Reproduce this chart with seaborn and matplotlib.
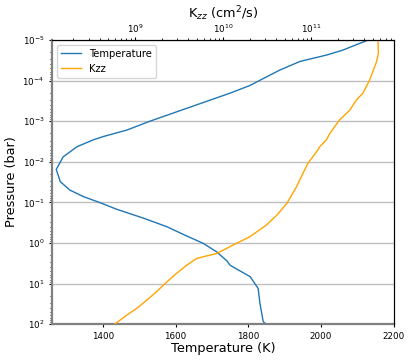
import numpy as np
import matplotlib
matplotlib.use("Agg")
import matplotlib.pyplot as plt
import seaborn as sns

# temperature profile (K) vs log10 pressure (bar)
temp_logp = [-5.0, -4.75, -4.63, -4.47, -4.26, -4.03, -3.88, -3.69, -3.0, -2.78, -2.62,
             -2.54, -2.37, -2.12, -1.81, -1.51, -1.30, -1.14, -0.99, -0.83, -0.61, -0.40,
             -0.17, 0.01, 0.22, 0.44, 0.55, 0.83, 1.12, 1.49, 1.94, 2.0]
temp_k = [2130, 2060, 2016, 1942, 1887, 1837, 1805, 1750, 1530, 1466, 1401,
          1374, 1329, 1291, 1272, 1283, 1310, 1347, 1393, 1438, 1512, 1576,
          1631, 1676, 1713, 1741, 1750, 1805, 1827, 1832, 1841, 1849]

# eddy diffusion (log10 cm^2/s) vs log10 pressure (bar)
kzz_logp = [-5.0, -4.67, -4.47, -4.01, -3.69, -3.52, -3.27, -3.03, -2.70, -2.54, -2.37,
            -2.25, -1.96, -1.38, -0.97, -0.69, -0.44, -0.15, 0.01, 0.26, 0.38, 0.55,
            0.75, 1.0, 1.20, 1.45, 1.61, 1.78, 2.0]
kzz_log = [11.755, 11.76, 11.74, 11.66, 11.585, 11.51, 11.435, 11.32, 11.21, 11.17, 11.095,
           11.06, 10.96, 10.83, 10.72, 10.61, 10.49, 10.30, 10.15, 9.925, 9.70, 9.585,
           9.47, 9.34, 9.245, 9.11, 9.02, 8.905, 8.77]

pressure_t = 10.0 ** np.array(temp_logp)
pressure_k = 10.0 ** np.array(kzz_logp)
kzz = 10.0 ** np.array(kzz_log)

fig = plt.figure(figsize=(4.15, 3.63), dpi=100)
ax = fig.add_axes([0.125, 0.107, 0.824, 0.783])

sns.lineplot(x=temp_k, y=pressure_t, sort=False, estimator=None, color="#1f77b4",
             lw=1.0, ax=ax, label="Temperature", legend=False)
ax.set_yscale("log")
ax.set_ylim(1e2, 1e-5)
ax.set_xlim(1260, 2200)
ax.set_xticks([1400, 1600, 1800, 2000, 2200])
ax.yaxis.grid(True, color="0.75", lw=1)
ax.set_xlabel("Temperature (K)", fontsize=9.3, labelpad=1)
ax.set_ylabel("Pressure (bar)", fontsize=9.3, labelpad=3)
ax.tick_params(labelsize=6.3, length=2.5, pad=3)
ax.tick_params(which="minor", length=1.5)

ax2 = ax.twiny()
sns.lineplot(x=kzz, y=pressure_k, sort=False, estimator=None, color="orange",
             lw=1.0, ax=ax2, label="Kzz", legend=False)
ax2.set_xscale("log")
ax2.set_xlim(10 ** 8.057, 10 ** 11.935)
ax2.set_ylim(1e2, 1e-5)
ax2.set_ylabel("")
ax2.set_xlabel("K$_{zz}$ (cm$^2$/s)", fontsize=9.3, labelpad=3)
ax2.tick_params(labelsize=6.3, length=2, pad=1.5)
ax2.tick_params(which="minor", length=1.2)

h1, l1 = ax.get_legend_handles_labels()
h2, l2 = ax2.get_legend_handles_labels()
ax2.legend(h1 + h2, l1 + l2, loc="upper left", fontsize=7.2)

for s in ["left", "bottom"]:
    ax.spines[s].set_color("0.5")
    ax.spines[s].set_linewidth(1.6)
    ax2.spines[s].set_visible(False)

fig.savefig("out.png", dpi=100)
